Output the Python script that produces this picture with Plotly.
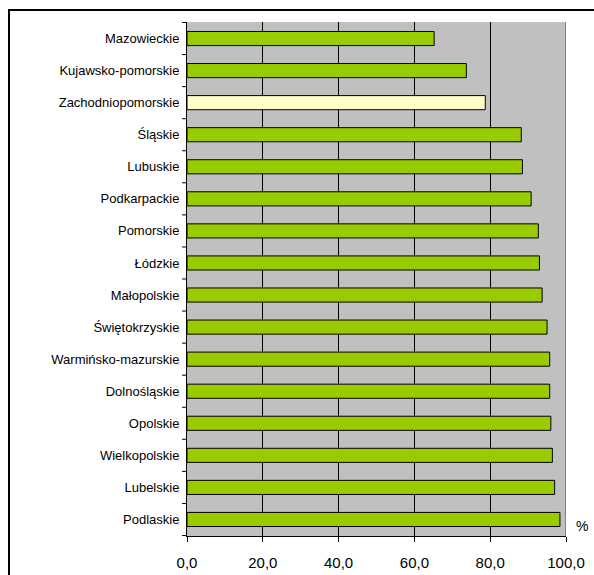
import plotly.graph_objects as go

# Regions, listed top to bottom as displayed
regions = [
    "Mazowieckie", "Kujawsko-pomorskie", "Zachodniopomorskie", "Śląskie",
    "Lubuskie", "Podkarpackie", "Pomorskie", "Łódzkie", "Małopolskie",
    "Świętokrzyskie", "Warmińsko-mazurskie", "Dolnośląskie", "Opolskie",
    "Wielkopolskie", "Lubelskie", "Podlaskie",
]
values = [65.2, 73.7, 78.7, 88.2, 88.5, 90.8, 92.7, 93.0, 93.7,
          95.0, 95.7, 95.7, 96.0, 96.4, 97.0, 98.4]
highlight = "Zachodniopomorskie"
x_ticks = [0, 20, 40, 60, 80, 100]

GREEN = "#99CC00"
PALE = "#FFFFCC"
colors = [PALE if r == highlight else GREEN for r in regions]

fig = go.Figure(
    go.Bar(
        x=values,
        y=regions,
        orientation="h",
        marker=dict(color=colors, line=dict(color="#000000", width=1)),
        hoverinfo="x+y",
    )
)

W, H = 594, 575
L, R, T, B = 187, 28, 22, 39
pw, ph = W - L - R, H - T - B


def px_x(px):
    return (px - L) / pw


def px_y(py):
    return (H - B - py) / ph


# category separator ticks on the left axis
sep_ticks = [
    dict(type="line", xref="paper", yref="y", x0=px_x(182), x1=0,
         y0=i - 0.5, y1=i - 0.5, line=dict(color="#000000", width=1))
    for i in range(len(regions) + 1)
]

fig.update_layout(
    width=W,
    height=H,
    margin=dict(l=L, r=R, t=T, b=B, pad=0, autoexpand=False),
    paper_bgcolor="#FFFFFF",
    plot_bgcolor="#C0C0C0",
    bargap=0.56,
    separators=",.",
    showlegend=False,
    font=dict(family="Liberation Sans, Arial, sans-serif", color="#000000"),
    xaxis=dict(
        range=[0, 100],
        tickvals=x_ticks,
        tickformat=".1f",
        showgrid=True,
        gridcolor="#000000",
        gridwidth=1,
        zeroline=False,
        showline=True,
        linecolor="#000000",
        linewidth=1,
        ticks="outside",
        ticklen=5,
        tickcolor="#000000",
        ticklabelstandoff=8,
        tickfont=dict(size=15),
        automargin=False,
        fixedrange=True,
    ),
    yaxis=dict(
        autorange="reversed",
        showgrid=False,
        showline=True,
        linecolor="#000000",
        linewidth=1,
        ticks="outside",
        ticklen=2,
        tickcolor="rgba(0,0,0,0)",
        ticklabelstandoff=2,
        tickfont=dict(size=13),
        automargin=False,
        fixedrange=True,
    ),
    shapes=sep_ticks + [
        # grey right edge of the plotting area
        dict(type="line", xref="x", yref="paper", x0=100, x1=100, y0=0, y1=1,
             line=dict(color="#808080", width=2), layer="above"),
        # outer chart frame
        dict(type="rect", xref="paper", yref="paper",
             x0=px_x(9), x1=px_x(W + 20), y0=px_y(H + 20), y1=px_y(10),
             line=dict(color="#000000", width=2), fillcolor="rgba(0,0,0,0)"),
    ],
    annotations=[
        dict(text="%", xref="paper", yref="paper", x=px_x(582), y=px_y(526),
             showarrow=False, font=dict(size=14), xanchor="center", yanchor="middle"),
    ],
)

fig.write_html("out.html")
